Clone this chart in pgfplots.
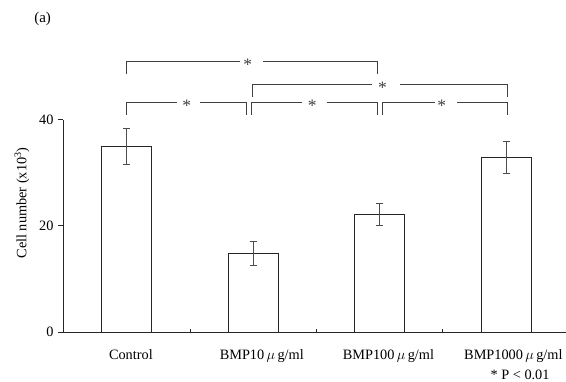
\documentclass[border=0pt]{standalone}
\usepackage{pgfplots}
\pgfplotsset{compat=1.18}
\usepackage{fontspec}
\setmainfont{Liberation Serif}
\newcommand{\lab}{\fontsize{14.3}{17}\selectfont}
\begin{document}
\lab
\begin{tikzpicture}
\path[use as bounding box] (-63.5pt,-49pt) rectangle (502.5pt,332pt);
\begin{axis}[
  at={(0pt,0pt)}, anchor=south west,
  scale only axis,
  width=502.6pt, height=212.5pt,
  xmin=-0.5, xmax=3.475,
  ymin=0, ymax=40,
  axis lines=left,
  axis line style={-, black!85, line width=0.8pt},
  clip=false,
  every tick/.style={black!85, line width=0.8pt},
  major tick length=5pt,
  ytick={0,20,40},
  ytick align=outside,
  /pgf/number format/assume math mode=true,
  yticklabel style={font=\lab},
  xtick={0.033,1.068,2.070,3.058},
  xticklabels={Control, BMP10\,$\mu$\,g/ml, BMP100\,$\mu$\,g/ml, BMP1000\,$\mu$\,g/ml},
  xtick style={draw=none},
  xtick align=inside,
  xticklabel style={font=\lab, anchor=base, yshift=-27.5pt},
  extra x ticks={0.5,1.5,2.5},
  extra x tick labels={},
  extra x tick style={xtick style={draw=black!85}, xtick align=inside, major tick length=3pt},
  every axis y label/.style={at={([xshift=-41.5pt]axis description cs:0,0.6075)}, rotate=90, anchor=center, font=\lab},
  ylabel={Cell number (x10\textsuperscript{3})},
]
\addplot[ybar, bar width=50pt, fill=white, draw=black!85, line width=0.8pt,
  error bars/.cd, y dir=both, y explicit,
  error bar style={black!70, line width=0.8pt},
  error mark options={rotate=90, mark size=3.5pt, black!70, line width=0.8pt}]
  coordinates {(0,34.9) +- (0,3.36) (1,14.8) +- (0,2.33) (2,22.05) +- (0,2.07) (3,32.9) +- (0,3.0)};

\begin{scope}[black!75, line width=0.7pt]
\draw (axis cs:0,48.56) |- (axis cs:0.897,50.88);
\draw (axis cs:1.079,50.88) -| (axis cs:1.983,48.56);
\draw (axis cs:0.997,44.29) |- (axis cs:1.938,46.55);
\draw (axis cs:2.162,46.55) -| (axis cs:3.011,44.29);
\draw (axis cs:0,40.85) |- (axis cs:0.396,43.16);
\draw (axis cs:0.580,43.16) -| (axis cs:0.950,40.85);
\draw (axis cs:0.989,40.85) |- (axis cs:1.385,43.16);
\draw (axis cs:1.582,43.16) -| (axis cs:1.983,40.85);
\draw (axis cs:2.025,40.85) |- (axis cs:2.439,43.16);
\draw (axis cs:2.611,43.16) -| (axis cs:3.011,40.85);
\end{scope}
\begin{scope}[every node/.style={anchor=base, yshift=-8.5pt, inner sep=0pt, text=black!75, font=\fontsize{17.5}{20}\selectfont}]
\node at (axis cs:0.958,50.88) {*};
\node at (axis cs:2.022,46.55) {*};
\node at (axis cs:0.475,43.16) {*};
\node at (axis cs:1.468,43.16) {*};
\node at (axis cs:2.492,43.16) {*};
\end{scope}
\node[font=\fontsize{15}{18}\selectfont] at (axis cs:-0.665,58.9) {(a)};
\node[font=\lab, anchor=base] at (axis cs:3.111,-8.85) {* P < 0.01};
\end{axis}
\end{tikzpicture}
\end{document}
